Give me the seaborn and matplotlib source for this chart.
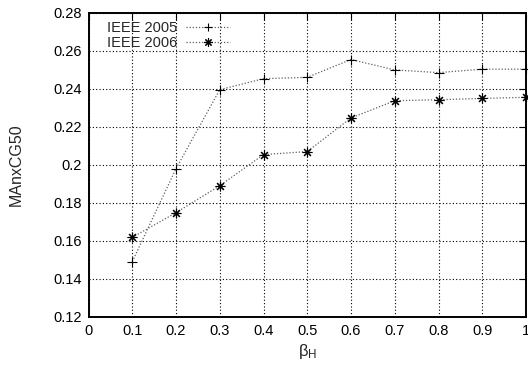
import matplotlib
matplotlib.use("Agg")
import matplotlib.pyplot as plt
import seaborn as sns
import pandas as pd

# beta_H sweep and MAnxCG50 scores for the two collections
beta_h = [0.1, 0.2, 0.3, 0.4, 0.5, 0.6, 0.7, 0.8, 0.9, 1.0]
ieee_2005 = [0.149, 0.198, 0.2396, 0.2454, 0.2461, 0.2555, 0.2500, 0.2486, 0.2504, 0.2504]
ieee_2006 = [0.1618, 0.1748, 0.189, 0.2054, 0.207, 0.2247, 0.2338, 0.2343, 0.235, 0.2356]
series_names = ["IEEE 2005", "IEEE 2006"]
x_ticks = [0, 0.1, 0.2, 0.3, 0.4, 0.5, 0.6, 0.7, 0.8, 0.9, 1]
x_tick_labels = ["0", "0.1", "0.2", "0.3", "0.4", "0.5", "0.6", "0.7", "0.8", "0.9", "1"]
y_ticks = [0.12, 0.14, 0.16, 0.18, 0.2, 0.22, 0.24, 0.26, 0.28]
y_tick_labels = ["0.12", "0.14", "0.16", "0.18", "0.2", "0.22", "0.24", "0.26", "0.28"]

df = pd.DataFrame({
    "beta": beta_h * 2,
    "score": ieee_2005 + ieee_2006,
    "run": [series_names[0]] * len(beta_h) + [series_names[1]] * len(beta_h),
})

sns.set_style("white")
plt.rcParams["font.family"] = ["Liberation Sans", "DejaVu Sans"]
plt.rcParams["mathtext.fontset"] = "custom"
plt.rcParams["mathtext.rm"] = "Liberation Sans"
plt.rcParams["mathtext.it"] = "Liberation Sans"

fig = plt.figure(figsize=(5.28, 3.69), dpi=100)
ax_left, ax_right, ax_bottom, ax_top = 88.5, 526.0, 316.7, 13.0
ax = fig.add_axes([ax_left / 528, 1 - ax_bottom / 369,
                   (ax_right - ax_left) / 528, (ax_bottom - ax_top) / 369])

ax.grid(True, color="black", linestyle=(0, (1, 2)), linewidth=0.8)
ax.set_axisbelow(True)

sns.lineplot(
    data=df, x="beta", y="score", hue="run", style="run",
    palette={series_names[0]: "#606060", series_names[1]: "#606060"},
    markers={series_names[0]: "+", series_names[1]: (8, 2, 0)},
    dashes={series_names[0]: (1, 1.5), series_names[1]: (1, 1.5)},
    linewidth=0.9, markersize=7, markeredgewidth=0.8,
    ax=ax, legend=True, clip_on=False,
)
for line in ax.lines:
    line.set_markeredgecolor("black")
    line.set_markerfacecolor("black")

ax.set_xlim(0, 1)
ax.set_ylim(0.12, 0.28)
ax.set_xticks(x_ticks)
ax.set_xticklabels(x_tick_labels)
ax.set_yticks(y_ticks)
ax.set_yticklabels(y_tick_labels)
ax.tick_params(direction="in", length=5, width=0.8, top=True, right=True,
               labelsize=10.5, colors="black", pad=5)

for s in ax.spines.values():
    s.set_color("black")
    s.set_linewidth(1.4)

ax.set_xlabel(r"$\mathrm{\beta_H}$", fontsize=12, labelpad=3)
ax.set_ylabel("MAnxCG50", fontsize=11.5, labelpad=21)

width_px = ax_right - ax_left
height_px = ax_bottom - ax_top
leg = ax.legend(loc="upper left", frameon=False, markerfirst=False,
                fontsize=10.5, handlelength=3.0, handletextpad=0.6,
                borderpad=0, borderaxespad=0, labelspacing=0.05,
                bbox_to_anchor=((107 - ax_left) / width_px, 1 - 8 / height_px))
for h in leg.legend_handles:
    h.set_markeredgecolor("black")
    h.set_markerfacecolor("black")
    h.set_markersize(6)

fig.savefig("out.png", dpi=100)
